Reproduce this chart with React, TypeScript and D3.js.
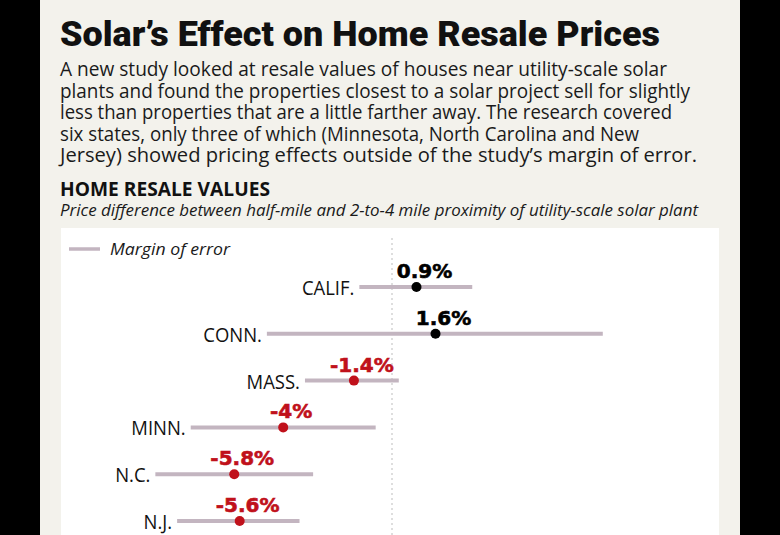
import React from "react";
import * as d3 from "d3";

const states = ["CALIF.", "CONN.", "MASS.", "MINN.", "N.C.", "N.J."];
const values = [0.9, 1.6, -1.4, -4, -5.8, -5.6];
const lows = [-1.2, -4.6, -3.2, -7.4, -8.7, -7.9];
const highs = [2.95, 7.75, 0.25, -0.6, -2.9, -3.4];
const valueLabels = ["0.9%", "1.6%", "-1.4%", "-4%", "-5.8%", "-5.6%"];

const title = "Solar\u2019s Effect on Home Resale Prices";
const bodyLines = [
  "A new study looked at resale values of houses near utility-scale solar",
  "plants and found the properties closest to a solar project sell for slightly",
  "less than properties that are a little farther away. The research covered",
  "six states, only three of which (Minnesota, North Carolina and New",
  "Jersey) showed pricing effects outside of the study\u2019s margin of error.",
];
const bodyWidths = [607, 630, 612, 579, 637];
const chartTitle = "HOME RESALE VALUES";
const chartSubtitle =
  "Price difference between half-mile and 2-to-4 mile proximity of utility-scale solar plant";
const legendLabel = "Margin of error";

const W = 780;
const H = 535;
const BAR = "#c3b5c0";
const RED = "#c0111b";
const SANS = "'Open Sans', sans-serif";

export default function App() {
  const x = d3.scaleLinear().domain([0, 1]).range([392, 419.2]);
  const y = d3.scalePoint<string>().domain(states).range([287, 521]);

  return (
    <svg
      width={W}
      height={H}
      style={{ position: "absolute", left: 0, top: 0, display: "block" }}
    >
      <rect x={0} y={0} width={W} height={H} fill="#000" />
      <rect x={40} y={0} width={700} height={H} fill="#f3f2ec" />
      <rect x={61} y={228} width={658} height={H - 228} fill="#ffffff" />

      <text
        x={60}
        y={46}
        fontFamily="'Roboto', sans-serif"
        fontWeight={900}
        fontSize={35}
        fill="#111"
        textLength={600}
        lengthAdjust="spacingAndGlyphs"
      >
        {title}
      </text>
      <text fontFamily={SANS} fontSize={20.5} fill="#1a1a1a">
        {bodyLines.map((t, i) => (
          <tspan
            key={i}
            x={60}
            y={76 + i * 21.6}
            textLength={bodyWidths[i]}
            lengthAdjust="spacingAndGlyphs"
          >
            {t}
          </tspan>
        ))}
      </text>
      <text
        x={60}
        y={196}
        fontFamily={SANS}
        fontWeight={700}
        fontSize={19}
        fill="#111"
        textLength={210}
        lengthAdjust="spacingAndGlyphs"
      >
        {chartTitle}
      </text>
      <text
        x={60}
        y={216}
        fontFamily={SANS}
        fontStyle="italic"
        fontSize={17}
        fill="#1a1a1a"
        textLength={638}
        lengthAdjust="spacingAndGlyphs"
      >
        {chartSubtitle}
      </text>

      {/* legend */}
      <line x1={69} x2={100} y1={249} y2={249} stroke={BAR} strokeWidth={3.5} />
      <text
        x={110}
        y={255}
        fontFamily={SANS}
        fontStyle="italic"
        fontSize={17}
        fill="#1a1a1a"
        textLength={120}
        lengthAdjust="spacingAndGlyphs"
      >
        {legendLabel}
      </text>

      {/* zero line */}
      <line
        x1={x(0)}
        x2={x(0)}
        y1={238}
        y2={H}
        stroke="#bdbdbd"
        strokeWidth={1}
        strokeDasharray="2,3"
      />

      {states.map((s, i) => {
        const yy = y(s) as number;
        const neg = values[i] < 0;
        const col = neg ? RED : "#000";
        const lx = x(lows[i]) - 5;
        return (
          <g key={s}>
            <line
              x1={x(lows[i])}
              x2={x(highs[i])}
              y1={yy}
              y2={yy}
              stroke={BAR}
              strokeWidth={4}
            />
            <circle cx={x(values[i])} cy={yy} r={5} fill={col} />
            <text
              x={lx}
              y={yy + 8}
              textAnchor="end"
              fontFamily={SANS}
              fontSize={20.5}
              fill="#111"
              transform={`translate(${lx},0) scale(0.9,1) translate(${-lx},0)`}
            >
              {s}
            </text>
            <text
              x={x(values[i]) + 8}
              y={yy - 9}
              textAnchor="middle"
              fontFamily="'DejaVu Sans', sans-serif"
              fontWeight={700}
              fontSize={20}
              fill={col}
              stroke={col}
              strokeWidth={0.6}
            >
              {valueLabels[i]}
            </text>
          </g>
        );
      })}
    </svg>
  );
}
